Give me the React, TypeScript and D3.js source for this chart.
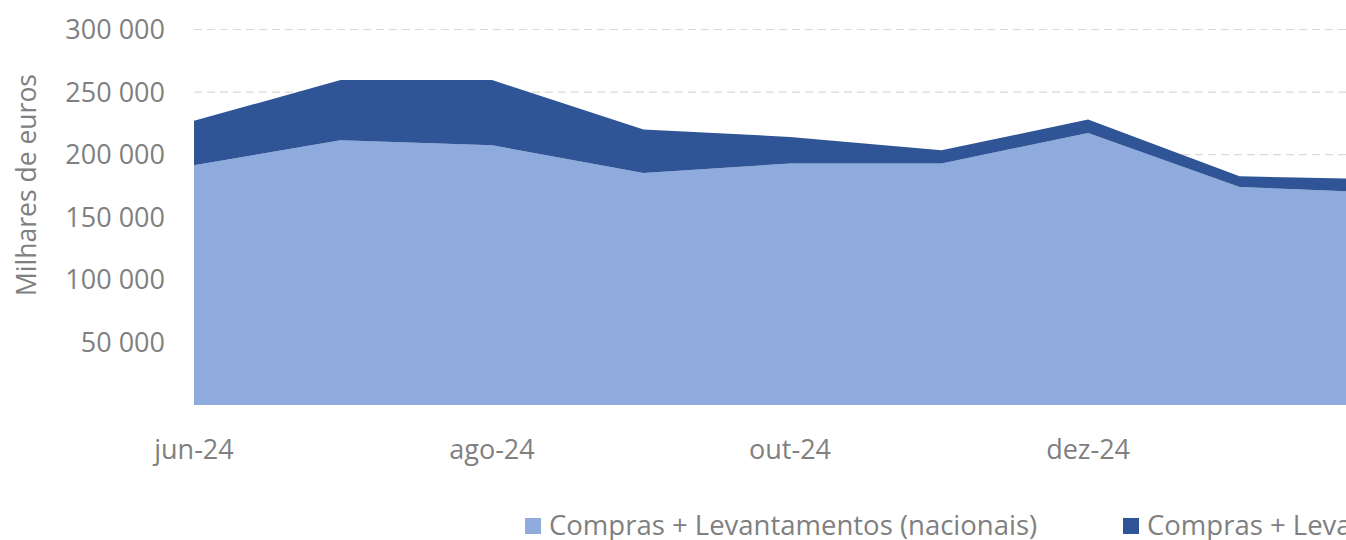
import React from 'react';
import * as d3 from 'd3';

const months = ['2024-06', '2024-07', '2024-08', '2024-09', '2024-10', '2024-11', '2024-12', '2025-01', '2025-02'];
const nacionais = [191500, 211500, 207500, 185300, 192900, 192900, 217400, 174100, 169300];
const internacionais = [35500, 48100, 52100, 34800, 21300, 10600, 10700, 8600, 10800];
const yTicks = [50000, 100000, 150000, 200000, 250000, 300000];
const tickMonths = ['2024-06', '2024-08', '2024-10', '2024-12', '2025-02'];
const monthNames = ['jan', 'fev', 'mar', 'abr', 'mai', 'jun', 'jul', 'ago', 'set', 'out', 'nov', 'dez'];
const seriesNames = ['Compras + Levantamentos (nacionais)', 'Compras + Levantamentos (internacionais)'];
const colors = ['#8faadc', '#2f5597'];

const parse = d3.timeParse('%Y-%m');
const fmtNum = (v: number) => d3.format(',')(v).replace(/,/g, ' ');
const fmtMonth = (d: Date) => monthNames[d.getMonth()] + '-' + String(d.getFullYear()).slice(2);

export default function App() {
  const W = 1346;
  const H = 540;
  const font = '"Open Sans", sans-serif';
  const textColor = '#808080';

  const x = d3.scaleTime()
    .domain([parse('2024-06')!, parse('2025-02')!])
    .range([194, 1391]);
  const y = d3.scaleLinear().domain([0, 300000]).range([405, 29.5]);

  const rows = months.map((m, i) => ({ date: parse(m)!, nac: nacionais[i], int: internacionais[i] }));
  const stack = d3.stack<any>().keys(['nac', 'int']);
  const layers = stack(rows);
  const area = d3.area<any>()
    .x(d => x(d.data.date))
    .y0(d => y(d[0]))
    .y1(d => y(d[1]));

  return (
    <svg width={W} height={H} style={{ display: 'block', position: 'absolute', left: 0, top: 0, overflow: 'hidden' }}>
      <rect width={W} height={H} fill="#ffffff" />
      {yTicks.map(t => (
        <g key={t}>
          <line x1={194} x2={W} y1={y(t)} y2={y(t)} stroke="#d9d9d9" strokeWidth={1.2} strokeDasharray="8 5" />
          <text x={165} y={y(t)} dy="0.35em" textAnchor="end" fontFamily={font} fontSize={27} fill={textColor}>
            {fmtNum(t)}
          </text>
        </g>
      ))}
      {layers.map((layer, i) => (
        <path key={i} d={area(layer) || ''} fill={colors[i]} />
      ))}
      {tickMonths.map(m => {
        const d = parse(m)!;
        return (
          <text key={m} x={x(d)} y={459} textAnchor="middle" fontFamily={font} fontSize={27} fill={textColor}>
            {fmtMonth(d)}
          </text>
        );
      })}
      <text
        transform={`translate(36, ${(73 + 297) / 2}) rotate(-90)`}
        textAnchor="middle"
        fontFamily={font}
        fontSize={26.5}
        fill={textColor}
      >
        Milhares de euros
      </text>
      {seriesNames.map((name, i) => {
        const lx = i === 0 ? 525 : 1123;
        return (
          <g key={name}>
            <rect x={lx} y={518} width={16} height={16} fill={colors[i]} />
            <text x={lx + 24} y={535} fontFamily={font} fontSize={27.5} fill={textColor}>
              {name}
            </text>
          </g>
        );
      })}
    </svg>
  );
}
